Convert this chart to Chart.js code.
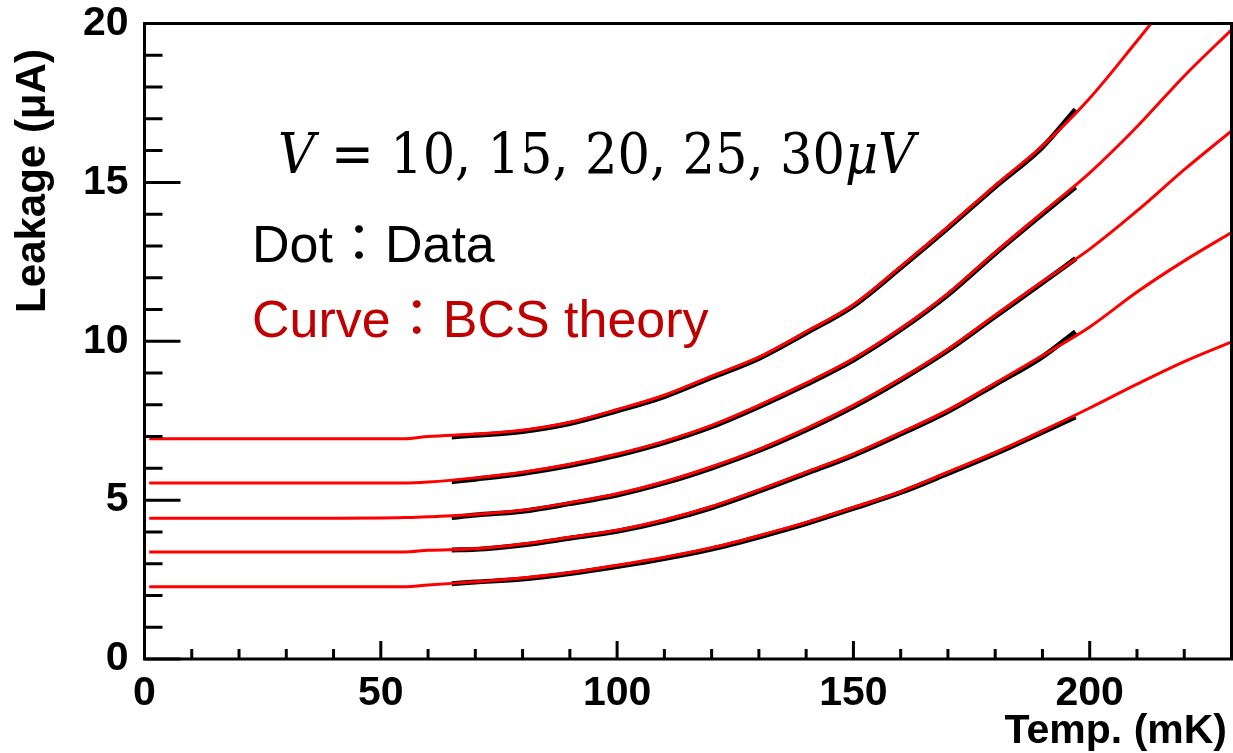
<!DOCTYPE html>
<html>
<head>
<meta charset="utf-8">
<script src="https://cdn.jsdelivr.net/npm/chart.js@4"></script>
<style>
  body { margin: 0; background: #fff; }
  #wrap { width: 1233px; height: 753px; position: relative; }
</style>
</head>
<body>
<div id="wrap"><canvas id="leakChart"></canvas></div>
<script>
// BCS theory curves (temp in mK, leakage in uA)
const theoryTemp = [1, 20, 40, 55, 60, 70, 80, 90, 100, 110, 120, 130, 140, 150, 160, 170, 180, 190, 200, 210, 220, 230];
const theory10 = [2.27, 2.27, 2.27, 2.27, 2.33, 2.43, 2.55, 2.72, 2.95, 3.20, 3.50, 3.88, 4.30, 4.77, 5.27, 5.88, 6.50, 7.18, 7.90, 8.65, 9.36, 9.98];
const theory15 = [3.37, 3.37, 3.37, 3.37, 3.42, 3.47, 3.62, 3.83, 4.05, 4.38, 4.80, 5.32, 5.88, 6.45, 7.12, 7.83, 8.68, 9.55, 10.45, 11.55, 12.53, 13.42];
const theory20 = [4.43, 4.43, 4.43, 4.45, 4.48, 4.55, 4.68, 4.92, 5.20, 5.58, 6.05, 6.60, 7.25, 7.98, 8.82, 9.75, 10.82, 11.88, 12.90, 14.10, 15.40, 16.62];
const theory25 = [5.54, 5.54, 5.54, 5.54, 5.57, 5.70, 5.88, 6.13, 6.45, 6.85, 7.35, 7.98, 8.68, 9.45, 10.40, 11.50, 12.80, 14.05, 15.30, 16.75, 18.35, 19.80];
const theory30 = [6.93, 6.93, 6.93, 6.93, 7.00, 7.08, 7.20, 7.45, 7.85, 8.30, 8.90, 9.50, 10.30, 11.15, 12.35, 13.60, 14.90, 16.15, 17.65, 19.45, 21.30, null];

// measured data (black dots)
const dataTemp = [65, 70, 80, 90, 100, 110, 120, 130, 140, 150, 160, 170, 180, 190, 197];
const data10 = [2.37, 2.42, 2.52, 2.69, 2.91, 3.16, 3.46, 3.84, 4.26, 4.74, 5.24, 5.84, 6.46, 7.14, 7.62];
const data15 = [3.43, 3.45, 3.59, 3.80, 4.02, 4.34, 4.76, 5.28, 5.84, 6.41, 7.08, 7.79, 8.64, 9.51, 10.30];
const data20 = [4.45, 4.53, 4.65, 4.89, 5.16, 5.54, 6.01, 6.56, 7.21, 7.94, 8.78, 9.71, 10.78, 11.84, 12.60];
const data25 = [5.58, 5.66, 5.84, 6.09, 6.41, 6.81, 7.31, 7.94, 8.64, 9.41, 10.36, 11.46, 12.76, 14.00, 14.85];
const data30 = [6.99, 7.04, 7.16, 7.41, 7.81, 8.26, 8.86, 9.46, 10.26, 11.11, 12.31, 13.56, 14.86, 16.11, 17.30];

const xMajor = [0, 50, 100, 150, 200];
const yMajor = [0, 5, 10, 15, 20];

function pts(xs, ys) {
  return xs.map((x, i) => ({ x: x, y: ys[i] }));
}

const dataSets = [data10, data15, data20, data25, data30];
const theorySets = [theory10, theory15, theory20, theory25, theory30];
let datasets = [];
dataSets.forEach(function (d) {
  datasets.push({
    data: pts(dataTemp, d), borderColor: '#000', borderWidth: 5,
    pointRadius: 0, cubicInterpolationMode: 'monotone', order: 2
  });
});
theorySets.forEach(function (t) {
  datasets.push({
    data: pts(theoryTemp, t), borderColor: '#ff0000', borderWidth: 3,
    pointRadius: 0, cubicInterpolationMode: 'monotone', order: 1
  });
});

// frame, inside ticks and texts (ROOT style)
const rootFrame = {
  id: 'rootFrame',
  afterDraw(chart) {
    const ctx = chart.ctx;
    const a = chart.chartArea;
    const xs = chart.scales.x, ys = chart.scales.y;
    ctx.save();
    ctx.strokeStyle = '#000';
    ctx.lineWidth = 3;
    ctx.strokeRect(a.left, a.top, a.right - a.left, a.bottom - a.top);
    ctx.beginPath();
    for (let v = 0; v <= 230; v += 10) {
      const px = xs.getPixelForValue(v);
      const len = xMajor.includes(v) ? 18 : 10;
      ctx.moveTo(px, a.bottom);
      ctx.lineTo(px, a.bottom - len);
    }
    for (let v = 0; v <= 20; v += 1) {
      const py = ys.getPixelForValue(v);
      const len = yMajor.includes(v) ? 36 : 18;
      ctx.moveTo(a.left, py);
      ctx.lineTo(a.left + len, py);
    }
    ctx.stroke();

    // axis titles
    ctx.fillStyle = '#000';
    ctx.font = 'bold 41px "Liberation Sans", Arial, sans-serif';
    ctx.textAlign = 'right';
    ctx.textBaseline = 'alphabetic';
    ctx.fillText('Temp. (mK)', 1227, 743);
    ctx.save();
    ctx.translate(45, 181);
    ctx.rotate(-Math.PI / 2);
    ctx.textAlign = 'center';
    ctx.font = 'bold 42px "Liberation Sans", Arial, sans-serif';
    ctx.fillText('Leakage (\u03BCA)', 0, 0);
    ctx.restore();

    // annotations
    ctx.textAlign = 'left';
    ctx.font = '52px "Liberation Sans", Arial, "Noto Sans CJK JP", sans-serif';
    ctx.fillStyle = '#000';
    ctx.fillText('Dot\uFF1AData', 252, 262);
    ctx.fillStyle = '#c00000';
    ctx.fillText('Curve\uFF1ABCS theory', 252, 337);

    // V = 10, 15, 20, 25, 30 uV
    const parts = [['V', true], [' = 10, 15, 20, 25, 30', false], ['\u03BCV', true]];
    const fam = '"DejaVu Serif", serif';
    let w = 0;
    parts.forEach(function (p) {
      ctx.font = (p[1] ? 'italic ' : '') + '56px ' + fam;
      w += ctx.measureText(p[0]).width;
    });
    const sx = 637 / w;
    ctx.fillStyle = '#000';
    ctx.save();
    ctx.translate(278, 173);
    ctx.scale(sx, 1);
    let cx = 0;
    parts.forEach(function (p) {
      ctx.font = (p[1] ? 'italic ' : '') + '56px ' + fam;
      ctx.fillText(p[0], cx, 0);
      cx += ctx.measureText(p[0]).width;
    });
    ctx.restore();
    ctx.restore();
  }
};

const tickFont = { family: '"Liberation Sans", Arial, sans-serif', size: 41, weight: 'bold', lineHeight: 1 };

new Chart(document.getElementById('leakChart').getContext('2d'), {
  type: 'line',
  data: { datasets: datasets },
  options: {
    responsive: true,
    maintainAspectRatio: false,
    animation: false,
    layout: { padding: { left: 0, right: 1.5, top: 23.5, bottom: 0 } },
    plugins: { legend: { display: false }, tooltip: { enabled: false } },
    scales: {
      x: {
        type: 'linear', min: 0, max: 230,
        grid: { display: false, drawTicks: false },
        border: { display: false },
        ticks: { stepSize: 50, includeBounds: false, color: '#000', font: tickFont, padding: 14, maxRotation: 0 },
        afterFit: function (s) { s.height = 94; s.paddingLeft = 0; s.paddingRight = 0; }
      },
      y: {
        type: 'linear', min: 0, max: 20,
        grid: { display: false, drawTicks: false },
        border: { display: false },
        ticks: { stepSize: 5, color: '#000', font: tickFont, padding: 16 },
        afterFit: function (s) { s.width = 144.5; s.paddingTop = 0; s.paddingBottom = 0; }
      }
    }
  },
  plugins: [rootFrame]
});
</script>
</body>
</html>
